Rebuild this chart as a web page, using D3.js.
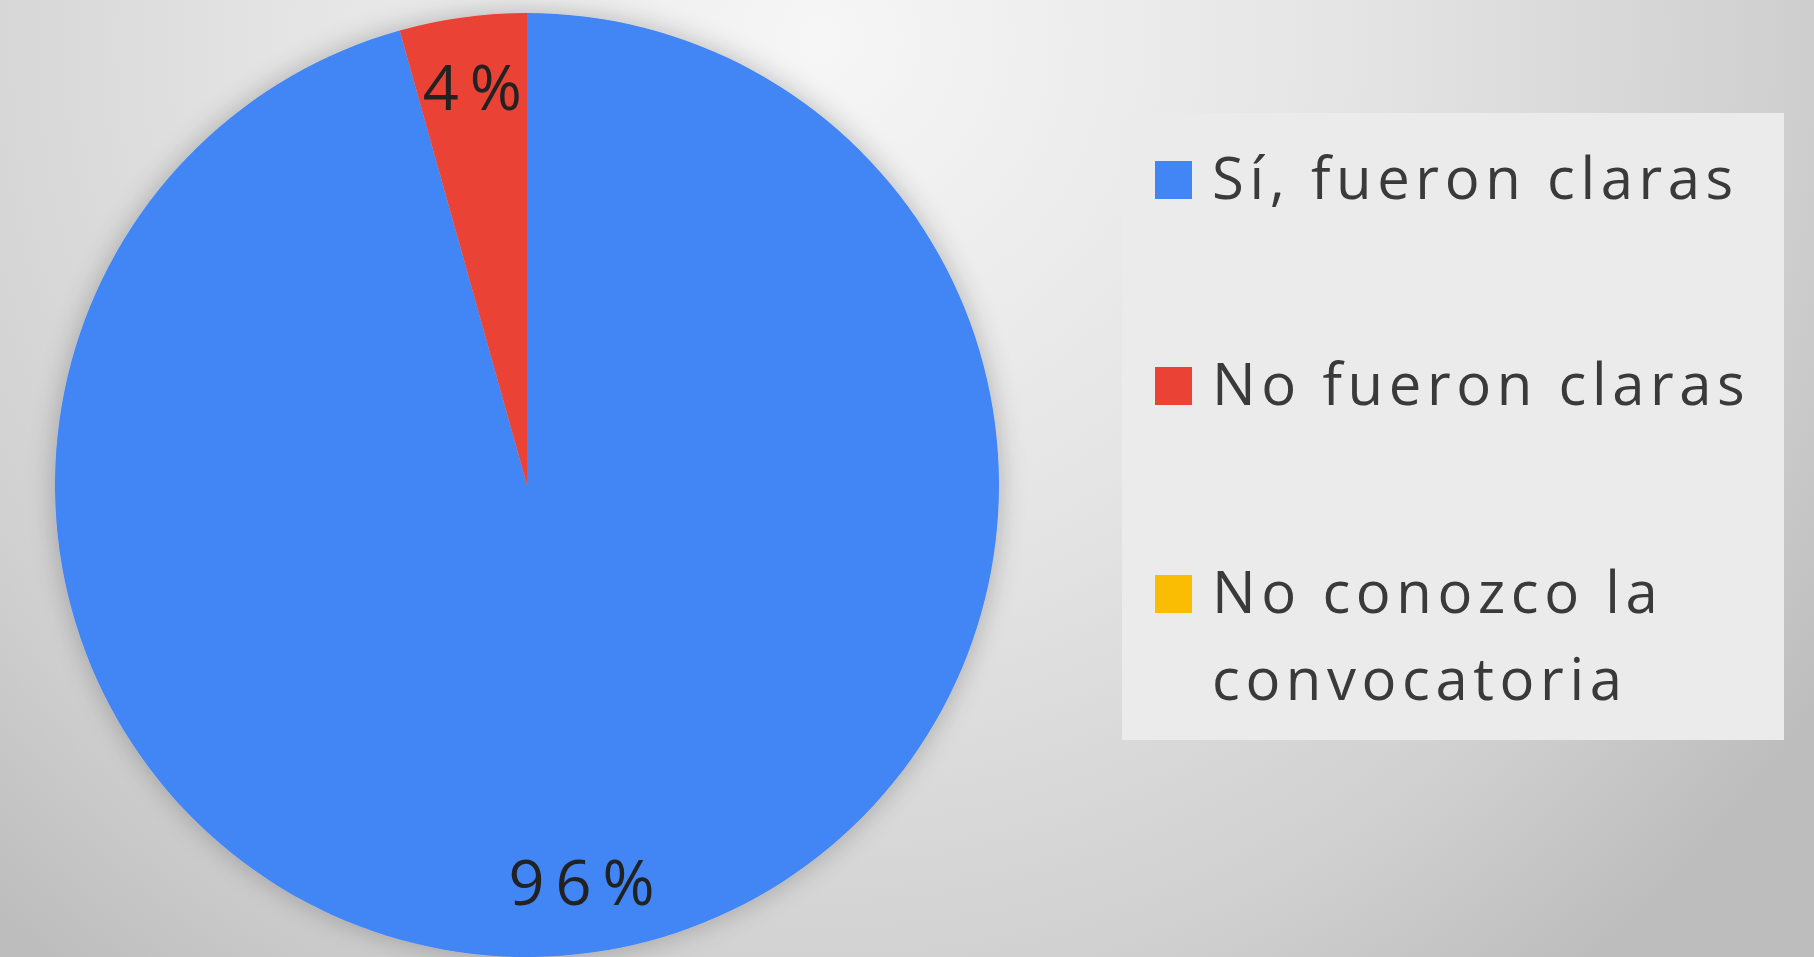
<!DOCTYPE html>
<html><head><meta charset="utf-8">
<script src="https://cdn.jsdelivr.net/npm/d3@7"></script>
<style>html,body{margin:0;padding:0;overflow:hidden;background:#ddd}</style>
</head><body>
<svg id="chart" width="1814" height="957"></svg>
<script>
const categories = ["Sí, fueron claras", "No fueron claras", "No conozco la convocatoria"];
const legendLines = [["Sí, fueron claras"], ["No fueron claras"], ["No conozco la", "convocatoria"]];
const values = [22, 1, 0];
const colors = ["#4285F4", "#EA4335", "#FBBC04"];

const W = 1814, H = 957;
const svg = d3.select("#chart");
const defs = svg.append("defs");

const bg = defs.append("radialGradient").attr("id", "bg")
  .attr("gradientUnits", "userSpaceOnUse")
  .attr("cx", 820).attr("cy", 40).attr("r", 1200);
bg.append("stop").attr("offset", "0%").attr("stop-color", "#f6f6f6");
bg.append("stop").attr("offset", "45%").attr("stop-color", "#e4e4e4");
bg.append("stop").attr("offset", "80%").attr("stop-color", "#d0d0d0");
bg.append("stop").attr("offset", "100%").attr("stop-color", "#bdbdbd");
svg.append("rect").attr("width", W).attr("height", H).attr("fill", "url(#bg)");

const shadow = defs.append("filter").attr("id", "shadow")
  .attr("x", "-20%").attr("y", "-20%").attr("width", "140%").attr("height", "140%");
shadow.append("feGaussianBlur").attr("in", "SourceAlpha").attr("stdDeviation", 14).attr("result", "b");
shadow.append("feComponentTransfer").attr("in", "b").attr("result", "s")
  .append("feFuncA").attr("type", "linear").attr("slope", 0.25);
const m = shadow.append("feMerge");
m.append("feMergeNode").attr("in", "s");
m.append("feMergeNode").attr("in", "SourceGraphic");

const cx = 527, cy = 485, r = 472;
const total = d3.sum(values);
const pie = d3.pie().sort(null).value(d => d)(values);
const arc = d3.arc().innerRadius(0).outerRadius(r);
const labelArc = d3.arc().innerRadius(r * 0.85).outerRadius(r * 0.85);
const color = d3.scaleOrdinal().domain(categories).range(colors);

const g = svg.append("g").attr("transform", `translate(${cx},${cy})`);
g.append("g").attr("filter", "url(#shadow)")
  .selectAll("path").data(pie.filter(d => d.value > 0)).join("path")
  .attr("d", arc)
  .attr("fill", (d, i) => color(categories[d.index]));

const lblSpacing = 11;
g.selectAll("text.lbl").data(pie.filter(d => d.value > 0)).join("text")
  .attr("class", "lbl")
  .attr("transform", d => `translate(${labelArc.centroid(d)})`)
  .attr("text-anchor", "middle")
  .attr("dx", lblSpacing / 2)
  .attr("dy", "0.36em")
  .attr("font-family", "'Open Sans', sans-serif")
  .attr("font-size", 63)
  .attr("letter-spacing", lblSpacing)
  .attr("fill", "#222")
  .text(d => Math.round(d.value / total * 100) + "%");

// Legend
const lg = svg.append("g");
lg.append("rect").attr("x", 1122).attr("y", 113).attr("width", 662).attr("height", 627)
  .attr("fill", "#ebebeb");
const rowY = [199, 405, 613];
const items = lg.selectAll("g.item").data(categories).join("g").attr("class", "item")
  .attr("transform", (d, i) => `translate(1155,${rowY[i]})`);
items.append("rect").attr("x", 0).attr("y", -38).attr("width", 37).attr("height", 38)
  .attr("fill", d => color(d));
items.append("text")
  .attr("font-family", "'Open Sans', sans-serif")
  .attr("font-size", 58)
  .attr("letter-spacing", 5.6)
  .attr("fill", "#3a3a3a")
  .selectAll("tspan").data((d, i) => legendLines[i]).join("tspan")
  .attr("x", 57).attr("y", (d, j) => j * 87)
  .text(d => d);
</script>
</body></html>
